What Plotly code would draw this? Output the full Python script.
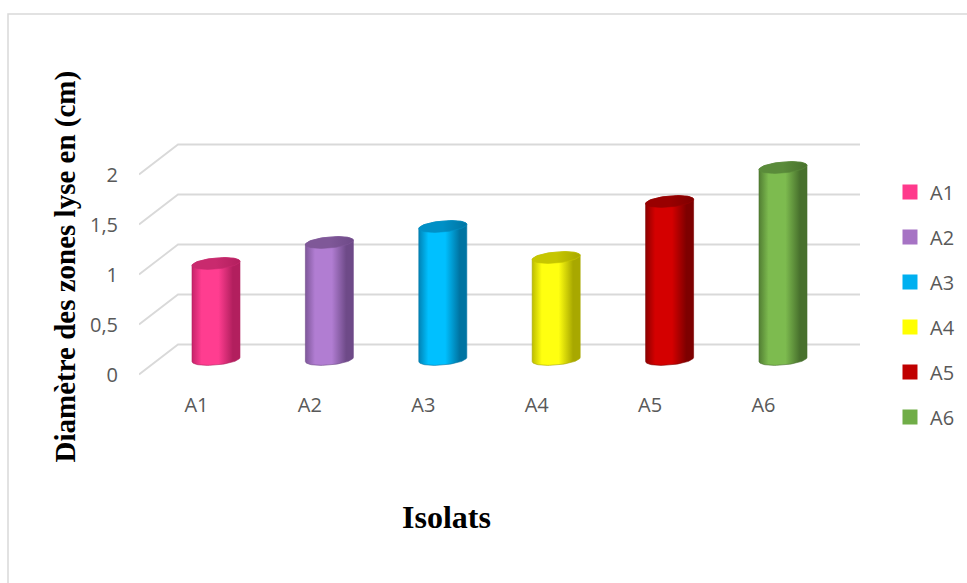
import numpy as np
import plotly.graph_objects as go

# ---- data -------------------------------------------------------------
isolats = ["A1", "A2", "A3", "A4", "A5", "A6"]
diametres = [0.96, 1.17, 1.33, 1.02, 1.58, 1.92]      # cm

y_tick_vals = [0, 0.5, 1, 1.5, 2]
y_tick_text = ["0", "0,5", "1", "1,5", "2"]

legend_colors = ["#FF3A8C", "#A673C4", "#00B0F0", "#FFFF00", "#C00000", "#70AD47"]
# (left edge, highlight, right edge, cap) shades for the cylinders
shades = [
    ("#C6236A", "#FF3D90", "#B21F5E", "#C92A6E"),
    ("#7E579A", "#B17DD2", "#6E4A88", "#7F5898"),
    ("#0083B6", "#00C0FF", "#0074A2", "#0090C6"),
    ("#BDBD00", "#FFFF10", "#A8A800", "#C6C600"),
    ("#8E0000", "#D40000", "#7E0000", "#990000"),
    ("#527F33", "#7DBB4F", "#48712D", "#5A8B3A"),
]

# ---- pseudo-3D geometry (axis units) ----------------------------------
DEPTH_X = 0.172   # half depth of the floor, along x (categories)
DEPTH_Y = 0.15    # half depth of the floor, along y (value units)
R_X = 0.2116      # cylinder radius (x)
R_Y = 0.055       # projected ellipse half-height
TILT = 0.021      # perspective tilt of the ellipses
X_LEFT, X_RIGHT = -0.679, 5.679
Y_LOW, Y_HIGH = -0.205, 2.295

fig = go.Figure()

# gridlines: front diagonal then along the back wall
gx, gy = [], []
for t in y_tick_vals:
    gx += [X_LEFT, X_LEFT + 2 * DEPTH_X, X_RIGHT, None]
    gy += [t - DEPTH_Y, t + DEPTH_Y, t + DEPTH_Y, None]
fig.add_trace(go.Scatter(x=gx, y=gy, mode="lines",
                         line=dict(color="#D9D9D9", width=1.8),
                         hoverinfo="skip", showlegend=False))


def ellipse(cx, cy, th):
    return cx + R_X * np.cos(th), cy + R_Y * np.sin(th) + TILT * np.cos(th)


for i, (name, v) in enumerate(zip(isolats, diametres)):
    left, hi, right, cap = shades[i]
    # body: bottom front arc, right side, top back arc, left side
    bx, by = ellipse(i, 0.0, np.linspace(np.pi, 2 * np.pi, 40))
    tx, ty = ellipse(i, v, np.linspace(0, np.pi, 40))
    xs = np.concatenate([bx, tx, bx[:1]])
    ys = np.concatenate([by, ty, by[:1]])
    fig.add_trace(go.Scatter(
        x=xs, y=ys, mode="lines", fill="toself",
        line=dict(color=right, width=0.6),
        fillgradient=dict(type="horizontal",
                          colorscale=[[0, left], [0.2, hi], [0.55, hi],
                                      [0.85, right], [1, right]]),
        hoverinfo="text", text=f"{name}: {v}", showlegend=False))
    # top cap
    cx_, cy_ = ellipse(i, v, np.linspace(0, 2 * np.pi, 60))
    fig.add_trace(go.Scatter(
        x=cx_, y=cy_, mode="lines", fill="toself",
        line=dict(color=cap, width=0.6),
        fillgradient=dict(type="horizontal",
                          colorscale=[[0, cap], [0.5, cap], [1, right]]),
        hoverinfo="skip", showlegend=False))

# legend entries
for name, c in zip(isolats, legend_colors):
    fig.add_trace(go.Scatter(x=[None], y=[None], mode="markers", name=name,
                             legendgroup=name,
                             marker=dict(symbol="square", size=15, color=c)))

tick_font = dict(family="Open Sans", size=20, color="#595959")

fig.update_layout(
    width=967, height=583,
    margin=dict(l=139, r=107, t=130, b=203, autoexpand=False),
    paper_bgcolor="white", plot_bgcolor="white",
    xaxis=dict(range=[X_LEFT, X_RIGHT],
               tickvals=[k - DEPTH_X for k in range(len(isolats))],
               ticktext=isolats, tickfont=tick_font,
               showgrid=False, zeroline=False, showline=False,
               ticks="", ticklabelstandoff=11),
    yaxis=dict(range=[Y_LOW, Y_HIGH],
               tickvals=[t - DEPTH_Y for t in y_tick_vals],
               ticktext=y_tick_text, tickfont=tick_font,
               showgrid=False, zeroline=False, showline=False,
               ticks="", ticklabelstandoff=20),
    legend=dict(x=1.0416, xanchor="left", y=0.83, yanchor="top",
                font=tick_font, tracegroupgap=16, maxheight=420,
                bgcolor="rgba(0,0,0,0)"),
    annotations=[
        dict(text="Diamètre des zones lyse en (cm)", textangle=-90,
             xref="paper", yref="paper", x=-0.1026, y=0.454,
             xanchor="center", yanchor="middle", showarrow=False,
             font=dict(family="Liberation Serif", size=29, color="black",
                       weight="bold")),
        dict(text="Isolats", xref="paper", yref="paper",
             x=0.427, y=-0.547, xanchor="center", yanchor="middle",
             showarrow=False,
             font=dict(family="Liberation Serif", size=32, color="black",
                       weight="bold")),
    ],
    shapes=[dict(type="rect", xref="paper", yref="paper",
                 x0=-0.1817, y0=1.464, x1=1.16, y1=-0.85,
                 line=dict(color="#D9D9D9", width=1.5), layer="below")],
)

fig.write_html("out.html")
